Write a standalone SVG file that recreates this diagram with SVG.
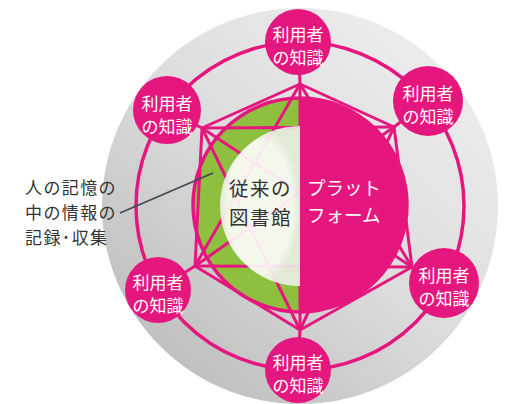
<svg xmlns="http://www.w3.org/2000/svg" width="509" height="404" viewBox="0 0 509 404">
<defs>
<linearGradient id="bg" x1="0.85" y1="0.1" x2="0.15" y2="0.9">
<stop offset="0" stop-color="#ededed"/>
<stop offset="0.5" stop-color="#dcdcdc"/>
<stop offset="1" stop-color="#bebebe"/>
</linearGradient>
<radialGradient id="wh" cx="0.5" cy="0.5" r="0.5">
<stop offset="0.8" stop-color="#ffffff"/>
<stop offset="1" stop-color="#eceee8"/>
</radialGradient>
<style>
.pk{fill:#e5177e}
.ring{fill:none;stroke:#e5177e;stroke-width:3.5}
.con line{stroke:#e5177e;stroke-width:3;stroke-linecap:round}
.nl{font-family:"Noto Sans CJK JP","Noto Sans CJK SC",sans-serif;font-size:17px;fill:#ffffff;text-anchor:middle}
.dk{font-family:"Noto Sans CJK JP","Noto Sans CJK SC",sans-serif;fill:#333333}
.wt{font-family:"Noto Sans CJK JP","Noto Sans CJK SC",sans-serif;fill:#ffffff}
</style>
</defs>
<rect width="509" height="404" fill="#ffffff"/>
<circle cx="300" cy="206" r="198" fill="url(#bg)"/>
<circle class="ring" cx="300" cy="206" r="164"/>
<g id="inner">
<path d="M300,98 A107,107 0 0 0 300,312 Z" fill="#8fbf3f"/>
<path class="pk" d="M300,98 A107,107 0 0 1 300,312 Z"/>
<circle class="ring" cx="300" cy="205" r="107" stroke-width="3"/>
</g>
<g id="connectors" class="con">
<line x1="298" y1="42" x2="300" y2="84"/>
<line x1="167" y1="110" x2="202" y2="128"/>
<line x1="428" y1="101" x2="394" y2="127"/>
<line x1="158" y1="290" x2="195" y2="266"/>
<line x1="444" y1="283" x2="412" y2="267"/>
<line x1="298" y1="370" x2="300" y2="330"/>
<line x1="300" y1="84" x2="202" y2="128"/>
<line x1="300" y1="84" x2="394" y2="127"/>
<line x1="300" y1="84" x2="195" y2="266"/>
<line x1="300" y1="84" x2="412" y2="267"/>
<line x1="300" y1="84" x2="300" y2="330"/>
<line x1="202" y1="128" x2="394" y2="127"/>
<line x1="202" y1="128" x2="195" y2="266"/>
<line x1="202" y1="128" x2="412" y2="267"/>
<line x1="202" y1="128" x2="300" y2="330"/>
<line x1="394" y1="127" x2="195" y2="266"/>
<line x1="394" y1="127" x2="412" y2="267"/>
<line x1="394" y1="127" x2="300" y2="330"/>
<line x1="195" y1="266" x2="412" y2="267"/>
<line x1="195" y1="266" x2="300" y2="330"/>
<line x1="412" y1="267" x2="300" y2="330"/>
</g>
<path d="M300,126 A80,80 0 0 0 300,286 Z" fill="url(#wh)" opacity="0.9"/>
<g id="n-top"><circle class="pk" cx="298" cy="42" r="33"/><text class="nl" x="298" y="41">利用者<tspan x="298" dy="23">の知識</tspan></text></g>
<g id="n-ul"><circle class="pk" cx="167" cy="110" r="34"/><text class="nl" x="167" y="110">利用者<tspan x="167" dy="23">の知識</tspan></text></g>
<g id="n-ur"><circle class="pk" cx="428" cy="101" r="35"/><text class="nl" x="428" y="100">利用者<tspan x="428" dy="23">の知識</tspan></text></g>
<g id="n-ll"><circle class="pk" cx="158" cy="290" r="33"/><text class="nl" x="158" y="289">利用者<tspan x="158" dy="23">の知識</tspan></text></g>
<g id="n-lr"><circle class="pk" cx="444" cy="283" r="35"/><text class="nl" x="444" y="282">利用者<tspan x="444" dy="23">の知識</tspan></text></g>
<g id="n-bot"><circle class="pk" cx="298" cy="370" r="33"/><text class="nl" x="298" y="369">利用者<tspan x="298" dy="23">の知識</tspan></text></g>
<g id="n-lib"><text class="dk" font-size="19.5" letter-spacing="1.5" x="229" y="196">従来の<tspan x="229" dy="28.5">図書館</tspan></text></g>
<g id="n-plat"><text class="wt" font-size="18.5" x="307" y="195">プラット<tspan x="307" dy="27">フォーム</tspan></text></g>
<g id="n-note">
<line x1="120" y1="213" x2="213" y2="173" stroke="#3b4a55" stroke-width="1.6"/>
<text class="dk" font-size="17" letter-spacing="1.4" x="25" y="194">人の記憶の<tspan x="25" dy="24.8">中の情報の</tspan><tspan x="25" dy="24.8">記録･収集</tspan></text>
</g>
</svg>
